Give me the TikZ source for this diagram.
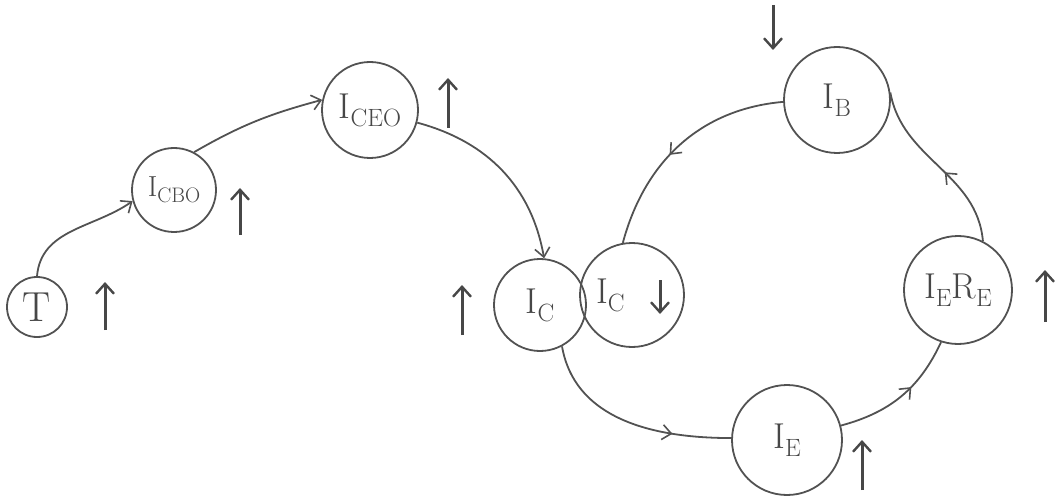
\documentclass[tikz,border=0pt]{standalone}
\usepackage{fontspec}
\usetikzlibrary{arrows.meta,decorations.markings}
\newcommand\subsc[1]{\raisebox{-0.22em}{\fontsize{25}{28}\selectfont #1}}
\newcommand\smallsub[1]{\raisebox{-0.2em}{\fontsize{21}{24}\selectfont #1}}
\begin{document}
\begin{tikzpicture}[x=1pt,y=1pt,
  ink/.style={draw=black!68,line width=1.8pt},
  state/.style={ink,circle,inner sep=0pt,text=black!72,font=\fontsize{36}{40}\selectfont},
  link/.style={ink},
  tipend/.style={-{Straight Barb[length=9pt,width=15pt,line width=1.6pt]}},
  midtip/.style={postaction={decorate,decoration={markings,
      mark=at position #1 with {\arrow{Straight Barb[length=9pt,width=15pt,line width=1.6pt]}}}}},
  trend/.style={draw=black!72,line width=3pt,-{Straight Barb[length=10pt,width=18pt,line width=2.4pt]}}
]
\useasboundingbox (0,0) rectangle (1061,499);

% states of the chain
\node[state,minimum size=60pt,font=\fontsize{42}{46}\selectfont] (T) at (37,192) {T};
\node[state,minimum size=84pt,font=\fontsize{29}{32}\selectfont] (ICBO) at (174,309) {I\smallsub{CBO}};
\node[state,minimum size=96pt]  (ICEO) at (370,389) {I\subsc{CEO}};
\node[state,minimum size=92pt]  (IcL)  at (540,194) {I\subsc{C}};
\node[state,minimum size=104pt,text width=76pt,align=left] (IcR) at (632,204) {\hspace*{2pt}I\subsc{C}};
\node[state,minimum size=106pt] (IB)   at (837,399) {I\subsc{B}};
\node[state,minimum size=108pt] (IERE) at (958,209) {I\subsc{E}R\subsc{E}};
\node[state,minimum size=110pt] (IE)   at (787,59)  {I\subsc{E}};

% connectors
\draw[link,tipend] (T.north) to[out=85,in=215] (ICBO.195);
\draw[link,tipend] (ICBO.62) to[out=30,in=195] (ICEO.168);
\draw[link,tipend] (ICEO.-15) to[out=-15,in=100] (IcL.85);
\draw[link,midtip=0.72] (IcL.-62) to[out=-80,in=180] (IE.178);
\draw[link,midtip=0.6] (IE.15) to[out=15,in=245] (IERE.-108);
\draw[link,midtip=0.45] (IERE.63) to[out=95,in=-80] (IB.8);
\draw[link,midtip=0.56] (IB.182) to[out=185,in=75] (IcR.100);

% increase / decrease marks
\draw[trend] (105,169) -- (105,217);
\draw[trend] (240,264) -- (240,311);
\draw[trend] (448,371) -- (448,421);
\draw[trend] (462,164) -- (462,214);
\draw[trend] ([shift={(28pt,15pt)}]IcR.center) -- ++(0,-34);
\draw[trend] (773,494) -- (773,449);
\draw[trend] (1045,177) -- (1045,229);
\draw[trend] (862,9) -- (862,59);
\end{tikzpicture}
\end{document}
